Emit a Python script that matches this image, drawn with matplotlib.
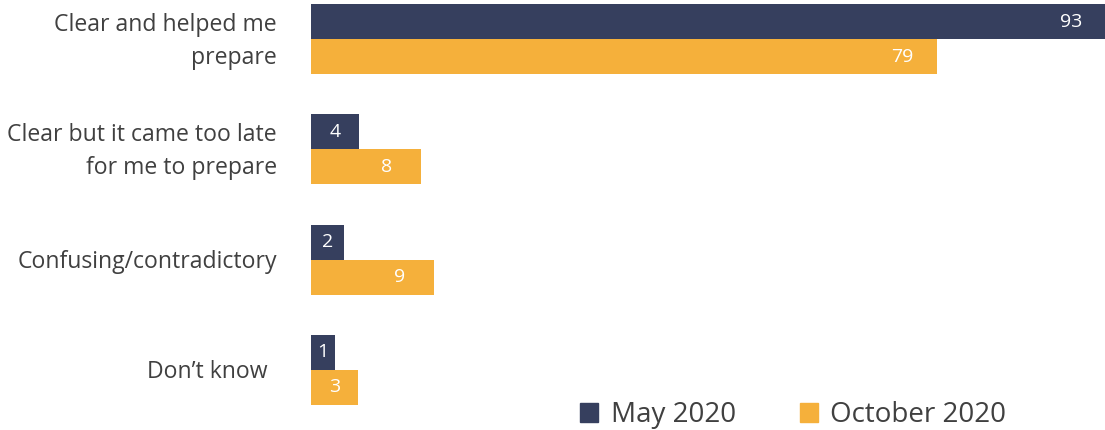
import matplotlib
matplotlib.use("Agg")
import matplotlib.pyplot as plt
from matplotlib.patches import Patch
import numpy as np

plt.rcParams['font.family'] = ['Open Sans', 'DejaVu Sans']

categories = ["Clear and helped me\nprepare",
              "Clear but it came too late\nfor me to prepare",
              "Confusing/contradictory",
              "Don\u2019t know"]
# printed values
may_values = [93, 4, 2, 1]
oct_values = [79, 8, 9, 3]
# bar lengths as drawn in the picture (same scale as the 93 bar)
may_lengths = [93, 5.6, 3.9, 2.8]
oct_lengths = [73.3, 12.9, 14.4, 5.5]

navy = '#363F5E'
orange = '#F5B03B'
grey = '#404040'

fig = plt.figure(figsize=(11.05, 4.3), dpi=100)
ax = fig.add_axes([311 / 1105, 0, 1 - 311 / 1105, 1])

y = np.arange(len(categories))
h = 0.317
bars_may = ax.barh(y - h / 2, may_lengths, h, color=navy)
bars_oct = ax.barh(y + h / 2, oct_lengths, h, color=orange)

ax.set_xlim(0, 93)
ax.set_ylim(3.545, -0.354)
ax.axis('off')

# value labels
for bars, vals in [(bars_may, may_values), (bars_oct, oct_values)]:
    for bar, v in zip(bars, vals):
        w = bar.get_width()
        xpos = max(w / 2, w - 4)
        ax.text(xpos, bar.get_y() + bar.get_height() / 2, f'{v}',
                ha='center', va='center', color='white', fontsize=14)

# category labels
offsets = [-34, -34, -34, -43]
for i, (cat, off) in enumerate(zip(categories, offsets)):
    ax.annotate(cat, xy=(0, i), xycoords=('data', 'data'),
                xytext=(off, -2), textcoords='offset pixels',
                ha='right', va='center', color=grey, fontsize=16.6,
                linespacing=1.5, annotation_clip=False)

handles = [Patch(color=navy, label='May 2020'), Patch(color=orange, label='October 2020')]
fig.legend(handles=handles, loc='center left', bbox_to_anchor=(580 / 1105, 1 - 415 / 430),
           ncol=2, frameon=False, fontsize=20, labelcolor=grey,
           handlelength=0.65, handleheight=0.65, handletextpad=0.45,
           columnspacing=2.3, borderpad=0, borderaxespad=0)

fig.savefig('out.png', dpi=100)
